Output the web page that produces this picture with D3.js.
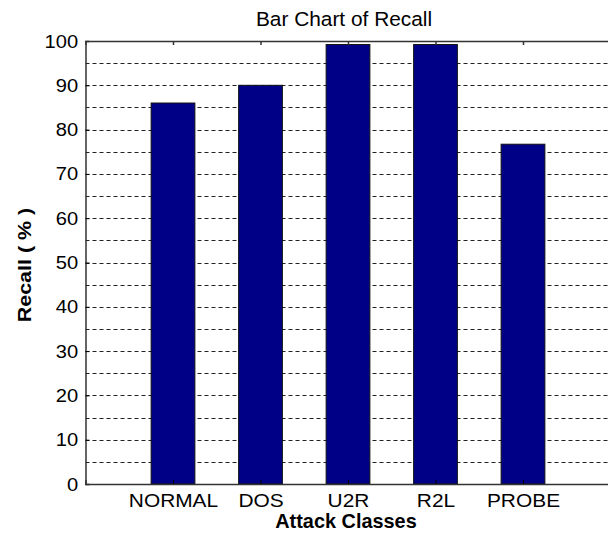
<!DOCTYPE html>
<html>
<head>
<meta charset="utf-8">
<script src="https://cdn.jsdelivr.net/npm/d3@7"></script>
<style>
  body { margin: 0; background: #fff; }
  text { font-family: "Liberation Sans", Arial, sans-serif; fill: #000; }
</style>
</head>
<body>
<div id="chart"></div>
<script>
// data
const classes = ["NORMAL", "DOS", "U2R", "R2L", "PROBE"];
const recall = [86, 90, 99.2, 99.2, 76.7];
const yTicks = [0, 10, 20, 30, 40, 50, 60, 70, 80, 90, 100];

const W = 608, H = 534;
const plotLeft = 85.5, plotTop = 41, plotBottom = 484, plotRight = 610.5;

const svg = d3.select("#chart").append("svg")
    .attr("width", W)
    .attr("height", H);

const x = d3.scaleLinear().domain([0, 6]).range([plotLeft, plotRight]);
const y = d3.scaleLinear().domain([0, 100]).range([plotBottom, plotTop]);

// dashed grid every 5
svg.append("g")
    .selectAll("line")
    .data(d3.range(5, 100, 5))
    .enter()
    .append("line")
    .attr("x1", plotLeft)
    .attr("x2", plotRight)
    .attr("y1", d => Math.round(y(d)) + 0.5)
    .attr("y2", d => Math.round(y(d)) + 0.5)
    .attr("stroke", "#222")
    .attr("stroke-width", 1)
    .attr("stroke-dasharray", "4,3");

// bars
svg.selectAll(".bar")
    .data(recall)
    .enter()
    .append("rect")
    .attr("class", "bar")
    .attr("x", (d, i) => x(i + 1 - 0.25))
    .attr("width", x(0.5) - x(0))
    .attr("y", d => y(d))
    .attr("height", d => y(0) - y(d))
    .attr("fill", "#000086")
    .attr("stroke", "#111")
    .attr("stroke-width", 1);

// axes box
svg.append("g")
    .attr("transform", `translate(${plotLeft},0)`)
    .call(d3.axisLeft(y).tickValues(yTicks).tickSize(-4).tickPadding(7))
    .call(g => g.select(".domain").attr("stroke", "#333").attr("stroke-width", 1.5))
    .call(g => g.selectAll("text").style("font-size", "19px")
        .attr("transform", "scale(1.06,1)"));

svg.append("g")
    .attr("transform", `translate(0,${plotBottom})`)
    .call(d3.axisBottom(x).tickValues([1, 2, 3, 4, 5])
        .tickFormat(d => classes[d - 1]).tickSize(-4).tickPadding(10))
    .call(g => g.select(".domain").attr("stroke", "#333").attr("stroke-width", 1.5))
    .call(g => g.selectAll("text").style("font-size", "18.5px")
        .attr("transform", "scale(1.13,1)"));

svg.append("g")
    .attr("transform", `translate(0,${plotTop})`)
    .call(d3.axisTop(x).tickValues([1, 2, 3, 4, 5]).tickFormat("").tickSize(-4))
    .call(g => g.select(".domain").attr("stroke", "#333").attr("stroke-width", 1.5))
    .call(g => g.selectAll(".tick line").attr("stroke", "#333").attr("stroke-width", 1.5));

// titles
svg.append("text")
    .attr("transform", "translate(344,25.5) scale(1.07,1)")
    .attr("text-anchor", "middle")
    .style("font-size", "19.5px")
    .text("Bar Chart of Recall");

svg.append("text")
    .attr("transform", "translate(346,528) scale(1.02,1)")
    .attr("text-anchor", "middle")
    .style("font-size", "19.5px")
    .style("font-weight", "bold")
    .text("Attack Classes");

svg.append("text")
    .attr("transform", "translate(31,265) rotate(-90) scale(1.13,1)")
    .attr("text-anchor", "middle")
    .style("font-size", "19px")
    .style("font-weight", "bold")
    .text("Recall ( % )");
</script>
</body>
</html>
